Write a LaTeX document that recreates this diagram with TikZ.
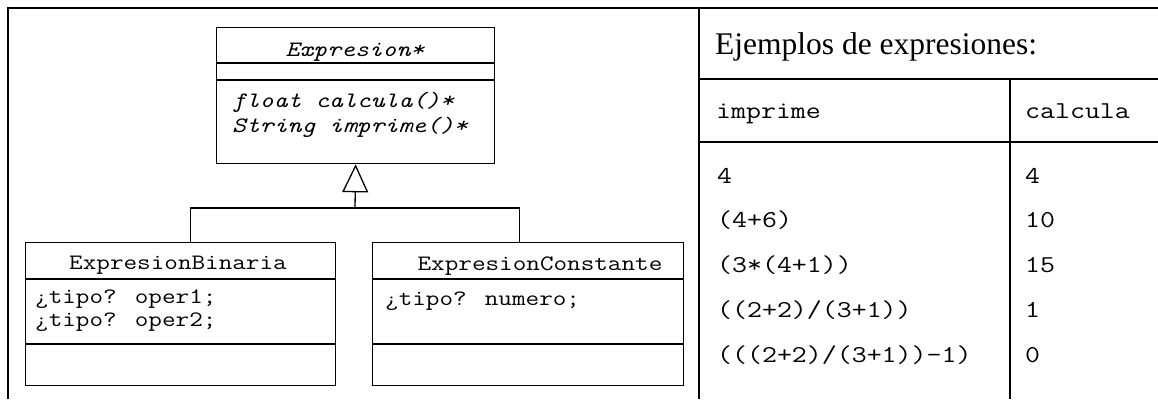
\documentclass[tikz,border=0pt]{standalone}
\usepackage{fontspec}
\setmainfont{Liberation Serif}
\newfontfamily\codefont[FakeStretch=1.2]{Latin Modern Mono}
\usetikzlibrary{arrows.meta}

\newcommand{\umlfont}{\codefont\fontsize{22}{24}\selectfont}
\newcommand{\tabfont}{\codefont\fontsize{24.2}{28}\selectfont}

\tikzset{
  classbox/.style={draw, line width=1.3pt, anchor=north west, inner sep=0pt},
  umlline/.style={line width=1.3pt},
  gridline/.style={line width=2.4pt},
  classname/.style={anchor=base, inner sep=0pt, font=\umlfont},
  member/.style={anchor=base west, inner sep=0pt, font=\umlfont},
  cell/.style={anchor=base west, inner sep=0pt, font=\tabfont}
}

\begin{document}
\begin{tikzpicture}[x=1pt, y=-1pt]
\useasboundingbox (0,0) rectangle (1158,399);
% marco y tabla
\draw [gridline] (8,399) -- (8,8) -- (1158,8);
\draw [gridline] (699,8) -- (699,399);
\draw [gridline] (699,79) -- (1158,79);
\draw [gridline] (699,142) -- (1158,142);
\draw [gridline] (1010,79) -- (1010,399);
\node [anchor=base west, inner sep=0pt, font=\fontsize{31.5}{36}\selectfont] (titulo) at (715,54) {Ejemplos de expresiones:};
\node [cell] (himprime) at (716,118) {imprime};
\node [cell] (hcalcula) at (1025,118) {calcula};
\foreach \e/\v [count=\i] in {4/4, (4+6)/10, (3*(4+1))/15, {((2+2)/(3+1))}/1, {(((2+2)/(3+1))-1)}/0}
{
  \node [cell] (imp\i) at (717,{183+44.75*(\i-1)}) {\e};
  \node [cell] (cal\i) at (1025,{183+44.75*(\i-1)}) {\v};
}
% clase Expresion
\node [classbox, minimum width=278pt, minimum height=136pt] (expr) at (216,27) {};
\draw [umlline] (expr.west |- 0,63) -- (expr.east |- 0,63);
\draw [umlline] (expr.west |- 0,80) -- (expr.east |- 0,80);
\node [classname] (exprname) at (355,56) {\itshape Expresion*};
\node [member] (calcula) at (232,107) {\itshape float calcula()*};
\node [member] (imprime) at (232,132) {\itshape String imprime()*};
% subclases
\node [classbox, minimum width=310.5pt, minimum height=143pt] (bin) at (24.5,242) {};
\draw [umlline] (bin.west |- 0,279) -- (bin.east |- 0,279);
\draw [umlline] (bin.west |- 0,344) -- (bin.east |- 0,344);
\node [classname] (binname) at (178,269) {ExpresionBinaria};
\node [member] (oper1) at (35,303) {¿tipo? oper1;};
\node [member] (oper2) at (35,326) {¿tipo? oper2;};
\node [classbox, minimum width=311pt, minimum height=143pt] (con) at (371.5,242) {};
\draw [umlline] (con.west |- 0,279) -- (con.east |- 0,279);
\draw [umlline] (con.west |- 0,344) -- (con.east |- 0,344);
\node [classname] (conname) at (540,270) {ExpresionConstante};
\node [member] (numero) at (385,305) {¿tipo? numero;};
% herencia
\coordinate (join) at (355,208);
\draw [umlline, -{Triangle[open, length=28pt, width=26pt]}] (join) -- (expr.south);
\draw [umlline] ([xshift=10pt]bin.north) |- (join) -| ([xshift=-8pt]con.north);
\end{tikzpicture}
\end{document}
